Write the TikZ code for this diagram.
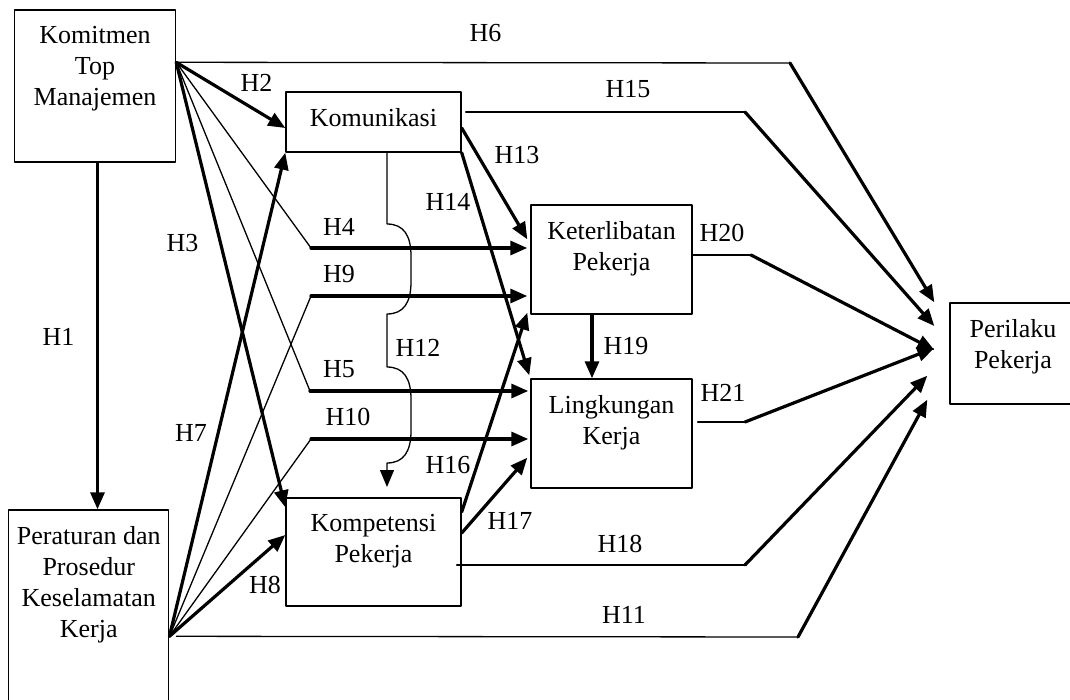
\documentclass[tikz,border=0pt]{standalone}
\usepackage{fontspec}
\setmainfont{Liberation Serif}
\usetikzlibrary{arrows.meta,positioning}
\begin{document}
\begin{tikzpicture}[line cap=round,line join=round,>={Triangle[length=17pt,width=14pt]},x=1pt,y=-1pt,
		font=\fontsize{26}{31}\selectfont,
		box/.style={draw,line width=1.4pt,line cap=butt,inner sep=0pt},
		boxtxt/.style={anchor=north,yshift=-17pt,align=center,inner sep=0pt},
		hyp/.style={inner sep=0pt},
		fine/.style={line width=1.3pt},
		bold/.style={line width=3.2pt}]
		\useasboundingbox (0,0) rectangle (1070,700);
		\clip (0,0) rectangle (1070,700);
		% variabel
		\node[box,minimum width=161pt,minimum height=152pt,label={[boxtxt]north:Komitmen\\Top\\Manajemen}] (kmt) at (95,86) {};
		\node[box,minimum width=175pt,minimum height=60pt,label={[boxtxt]north:Komunikasi}] (kom) at (373.5,122) {};
		\node[box,minimum width=160pt,minimum height=220pt,label={[boxtxt]north:Peraturan dan\\Prosedur\\Keselamatan\\Kerja}] (per) at (88.75,620) {};
		\node[box,minimum width=175pt,minimum height=108pt,label={[boxtxt]north:Kompetensi\\Pekerja}] (kmp) at (373.5,552) {};
		\node[box,minimum width=161pt,minimum height=109pt,label={[boxtxt]north:Keterlibatan\\Pekerja}] (ket) at (611.5,259.5) {};
		\node[box,minimum width=161pt,minimum height=109pt,label={[boxtxt]north:Lingkungan\\Kerja}] (lkg) at (611.5,433.5) {};
		\node[box,minimum width=126pt,minimum height=101pt,label={[boxtxt]north:Perilaku\\Pekerja}] (prl) at (1013,353.5) {};
		% titik belok
		\coordinate (kmtout) at ([yshift=-53pt]kmt.north east);
		\coordinate (perout) at ([yshift=-127pt]per.north east);
		\coordinate (b4) at (311,248);
		\coordinate (b9) at (311,296);
		\coordinate (b5) at (310,391);
		\coordinate (b10) at (311,439);
		\coordinate (b6) at (790,63);
		\coordinate (b15) at (745,112);
		\coordinate (b20) at (751,255);
		\coordinate (b21) at (745,422);
		\coordinate (b18) at (745,565);
		\coordinate (b11) at (798,637);
		% dari Komitmen Top Manajemen
		\draw[bold,->] ([xshift=2.5pt]kmt.south) -- ([xshift=2.5pt]kmt.south |- per.north);
		\draw[bold,->] (kmtout) -- ([yshift=-6pt]kom.west);
		\draw[bold,->] (kmtout) -- ([yshift=-10pt]kmp.north west);
		\draw[fine] (kmtout) -- (b4);
		\draw[bold,->] (b4) -- ([xshift=-3pt]b4 -| ket.west);
		\draw[fine] (kmtout) -- (b5);
		\draw[bold,->] (b5) -- ([xshift=-2pt]b5 -| lkg.west);
		\draw[fine] (kmtout) -- (b6);
		\draw[bold,->] (b6) -- ([xshift=-15pt]prl.north west);
		% dari Peraturan dan Prosedur
		\draw[bold,->] (perout) -- (kom.south west);
		\draw[bold,->] (perout) -- ([yshift=17pt]kmp.west);
		\draw[fine] (perout) -- (b9);
		\draw[bold,->] (b9) -- ([xshift=-3pt]b9 -| ket.west);
		\draw[fine] (perout) -- (b10);
		\draw[bold,->] (b10) -- ([xshift=-2pt]b10 -| lkg.west);
		\draw[fine] ([xshift=7pt]perout) -- (b11);
		\draw[bold,->] (b11) -- ([xshift=-22pt,yshift=5pt]prl.south west);
		% dari Komunikasi
		\draw[fine,->] ([xshift=13.5pt]kom.south) -- (387,224) .. controls (404,224) and (411,236) .. (411,256) -- (411,282) .. controls (411,302) and (404,314) .. (387,314) -- (387,367) .. controls (404,367) and (411,379) .. (411,399) -- (411,431) .. controls (411,451) and (404,463) .. (387,463) -- (387,487);
		\draw[bold,->] ([yshift=-6pt]kom.east) -- ([xshift=-3pt,yshift=-35pt]ket.north west);
		\draw[bold,->] (kom.south east) -- ([xshift=-1pt,yshift=3pt]lkg.north west);
		\draw[fine] ([xshift=4pt,yshift=10pt]kom.east) -- (b15);
		\draw[bold,->] (b15) -- ([xshift=-15pt,yshift=27.5pt]prl.west);
		% dari Kompetensi Pekerja
		\draw[bold,->] ([yshift=40pt]kmp.east) -- ([xshift=-3pt,yshift=2pt]ket.south west);
		\draw[bold,->] ([yshift=19pt]kmp.east) -- ([xshift=-3pt,yshift=31pt]lkg.south west);
		\draw[fine] ([xshift=-5pt,yshift=-13pt]kmp.east) -- (b18);
		\draw[bold,->] (b18) -- ([xshift=-22pt,yshift=29pt]prl.south west);
		% ke Perilaku Pekerja
		\draw[bold,->] ([xshift=-19.5pt]ket.south) -- ([xshift=-19.5pt]lkg.north);
		\draw[fine] ([yshift=4.5pt]ket.east) -- (b20);
		\draw[bold,->] (b20) -- ([xshift=-15pt,yshift=3.5pt]prl.west);
		\draw[fine] ([xshift=5pt,yshift=11.5pt]lkg.east) -- (b21);
		\draw[bold,->] (b21) -- ([xshift=-15pt,yshift=5.5pt]prl.west);
		% hipotesis
		\node[hyp] (h1) at (58.5,337) {H1};
		\node[hyp] (h2) at (256.5,83) {H2};
		\node[hyp] (h3) at (182.5,243) {H3};
		\node[hyp] (h4) at (339,227) {H4};
		\node[hyp] (h5) at (339,369) {H5};
		\node[hyp] (h6) at (485.5,33) {H6};
		\node[hyp] (h7) at (191,433) {H7};
		\node[hyp] (h8) at (265,585) {H8};
		\node[hyp] (h9) at (339,274) {H9};
		\node[hyp] (h10) at (348,417) {H10};
		\node[hyp] (h11) at (624,615) {H11};
		\node[hyp] (h12) at (418,348) {H12};
		\node[hyp] (h13) at (517,155) {H13};
		\node[hyp] (h14) at (448,202) {H14};
		\node[hyp] (h15) at (628,89) {H15};
		\node[hyp] (h16) at (448,465) {H16};
		\node[hyp] (h17) at (510,521) {H17};
		\node[hyp] (h18) at (620,544) {H18};
		\node[hyp] (h19) at (626,346) {H19};
		\node[hyp] (h20) at (722,233) {H20};
		\node[hyp] (h21) at (723,393) {H21};
	\end{tikzpicture}
\end{document}
